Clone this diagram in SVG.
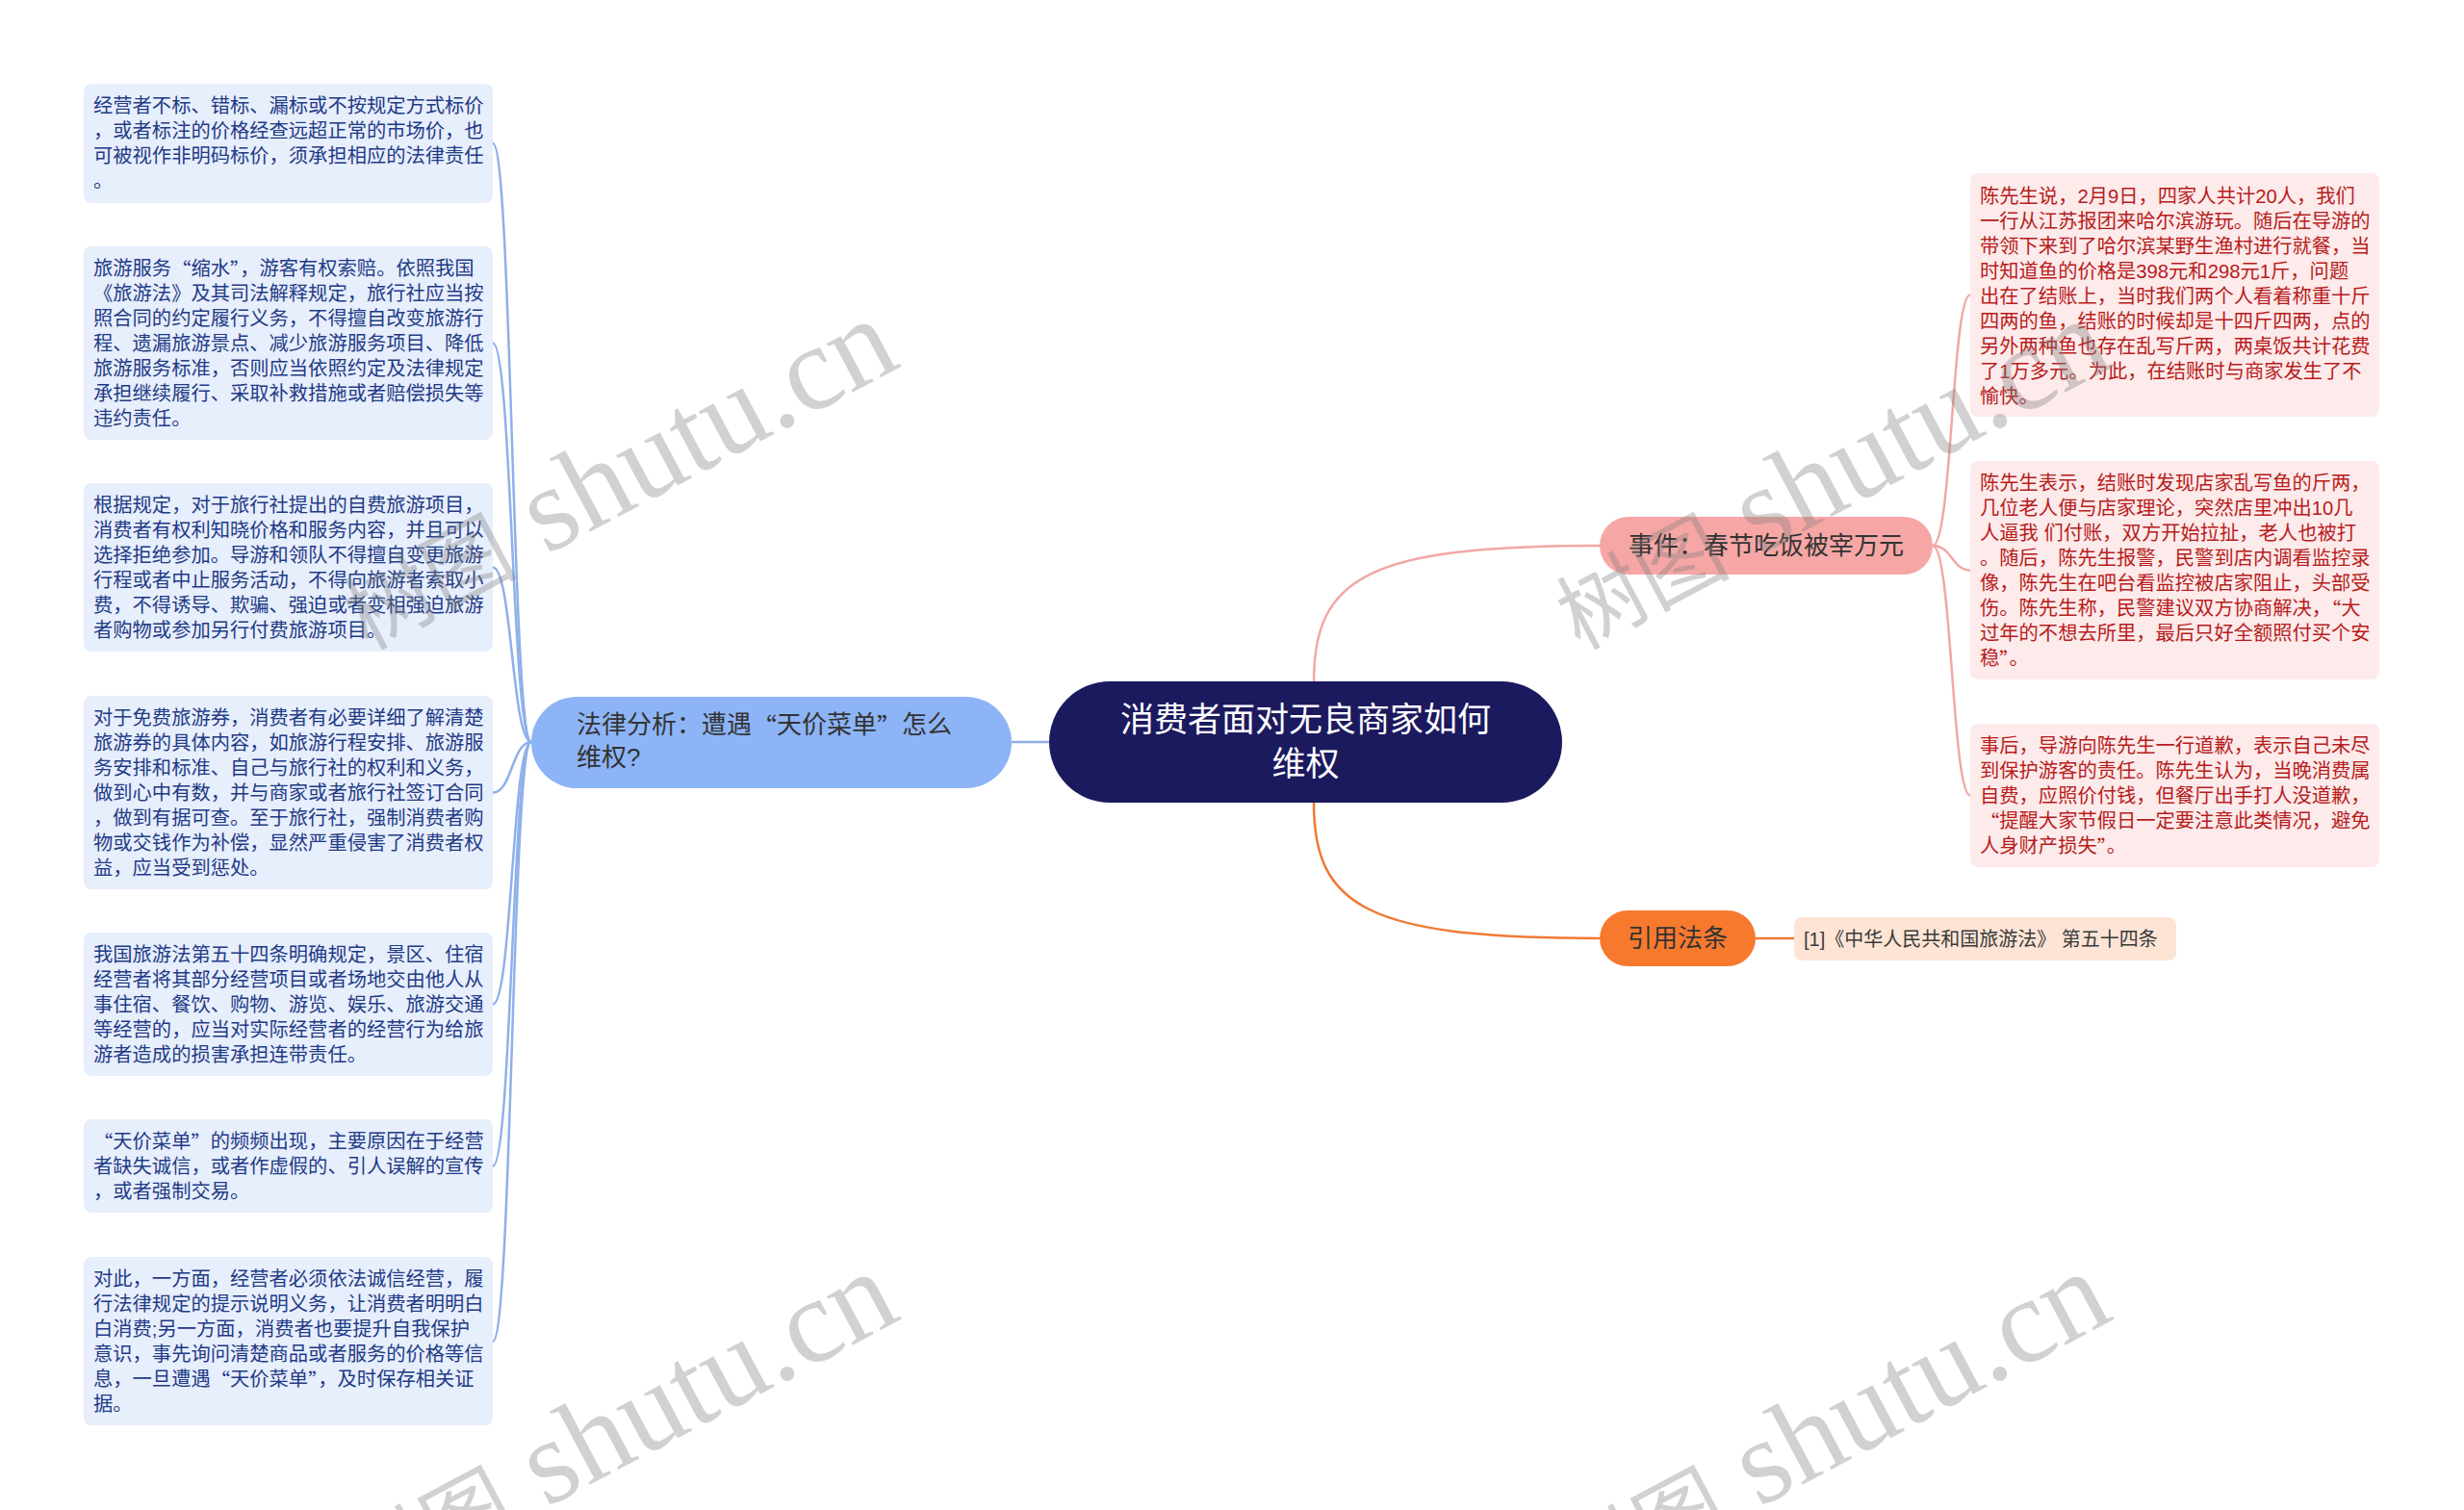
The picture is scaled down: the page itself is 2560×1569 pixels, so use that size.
<svg xmlns="http://www.w3.org/2000/svg" width="2560" height="1569" viewBox="0 0 2560 1569">
<style>
text{font-family:"Liberation Sans","Noto Sans CJK SC",sans-serif;}
.q{font-family:"Noto Sans CJK SC","Liberation Sans",sans-serif;}
.bl{fill:#e7eefc;}
.rl{fill:#fdeaea;}
.tb{font-size:20.3px;fill:#1f3b86;dominant-baseline:central;}
.tr{font-size:20.3px;fill:#b71c1c;dominant-baseline:central;}
.cb{fill:none;stroke:#8fb0ea;stroke-width:2.5;}
.cp{fill:none;stroke:#f2a7a5;stroke-width:2.5;}
.co{fill:none;stroke:#f07a35;stroke-width:2.5;}
.wm{font-family:"Liberation Serif","Noto Sans CJK SC",serif;font-size:125px;fill:#7f7f7f;fill-opacity:0.36;}
</style>
<rect width="2560" height="1569" fill="#ffffff"/>
<g id="connectors">
<path class="cb" d="M1090 771 L1051 771"/>
<path class="cp" d="M1365 709 C1365 600 1420 567 1662 567"/>
<path class="co" d="M1365 834 C1365 942 1420 975 1662 975"/>
<path class="co" d="M1824 975 L1864 975"/>
<path class="cb" d="M552 771 C532 771 532 149 512 149"/>
<path class="cb" d="M552 771 C532 771 532 356.5 512 356.5"/>
<path class="cb" d="M552 771 C532 771 532 589.5 512 589.5"/>
<path class="cb" d="M552 771 C532 771 532 823.5 512 823.5"/>
<path class="cb" d="M552 771 C532 771 532 1043.5 512 1043.5"/>
<path class="cb" d="M552 771 C532 771 532 1211.5 512 1211.5"/>
<path class="cb" d="M552 771 C532 771 532 1393.5 512 1393.5"/>
<path class="cp" d="M2008 567 C2028 567 2028 306.5 2047 306.5"/>
<path class="cp" d="M2008 567 C2028 567 2028 592.5 2047 592.5"/>
<path class="cp" d="M2008 567 C2028 567 2028 826.5 2047 826.5"/>
</g>
<g id="root">
<rect x="1090" y="708" width="533" height="126" rx="63" fill="#1c1a5e"/>
<text x="1356.5" y="747" font-size="35" fill="#ffffff" text-anchor="middle" dominant-baseline="central">消费者面对无良商家如何</text>
<text x="1356.5" y="793" font-size="35" fill="#ffffff" text-anchor="middle" dominant-baseline="central">维权</text>
</g>
<g id="branch-law">
<rect x="552" y="724" width="499" height="95" rx="47.5" fill="#8db4f6"/>
<text x="599" y="753" font-size="26" fill="#333333" dominant-baseline="central">法律分析：遭遇<tspan class="q">“</tspan>天价菜单<tspan class="q">”</tspan>怎么</text>
<text x="599" y="787" font-size="26" fill="#333333" dominant-baseline="central">维权?</text>
</g>
<g id="branch-event">
<rect x="1662" y="537" width="346" height="60" rx="30" fill="#f6a7a5"/>
<text x="1835" y="567" font-size="26" fill="#333333" text-anchor="middle" dominant-baseline="central">事件：春节吃饭被宰万元</text>
</g>
<g id="branch-cite">
<rect x="1662" y="946" width="162" height="58" rx="29" fill="#f7792e"/>
<text x="1743" y="975" font-size="26" fill="#333333" text-anchor="middle" dominant-baseline="central">引用法条</text>
</g>
<g id="leaf-cite">
<rect x="1864" y="953" width="397" height="45" rx="8" fill="#fde4d5"/>
<text x="1874" y="975.5" font-size="20" fill="#3a3a3a" dominant-baseline="central">[1]《中华人民共和国旅游法》 第五十四条</text>
</g>
<g id="leaf-l1">
<rect class="bl" x="87" y="87" width="425" height="124" rx="8"/>
<text class="tb" x="97" y="110">经营者不标、错标、漏标或不按规定方式标价</text>
<text class="tb" x="97" y="136">，或者标注的价格经查远超正常的市场价，也</text>
<text class="tb" x="97" y="162">可被视作非明码标价，须承担相应的法律责任</text>
<text class="tb" x="97" y="188">。</text>
</g>
<g id="leaf-l2">
<rect class="bl" x="87" y="256" width="425" height="201" rx="8"/>
<text class="tb" x="97" y="279">旅游服务<tspan class="q">“</tspan>缩水<tspan class="q">”</tspan>，游客有权索赔。依照我国</text>
<text class="tb" x="97" y="305">《旅游法》及其司法解释规定，旅行社应当按</text>
<text class="tb" x="97" y="331">照合同的约定履行义务，不得擅自改变旅游行</text>
<text class="tb" x="97" y="357">程、遗漏旅游景点、减少旅游服务项目、降低</text>
<text class="tb" x="97" y="383">旅游服务标准，否则应当依照约定及法律规定</text>
<text class="tb" x="97" y="409">承担继续履行、采取补救措施或者赔偿损失等</text>
<text class="tb" x="97" y="435">违约责任。</text>
</g>
<g id="leaf-l3">
<rect class="bl" x="87" y="502" width="425" height="175" rx="8"/>
<text class="tb" x="97" y="525">根据规定，对于旅行社提出的自费旅游项目，</text>
<text class="tb" x="97" y="551">消费者有权利知晓价格和服务内容，并且可以</text>
<text class="tb" x="97" y="577">选择拒绝参加。导游和领队不得擅自变更旅游</text>
<text class="tb" x="97" y="603">行程或者中止服务活动，不得向旅游者索取小</text>
<text class="tb" x="97" y="629">费，不得诱导、欺骗、强迫或者变相强迫旅游</text>
<text class="tb" x="97" y="655">者购物或参加另行付费旅游项目。</text>
</g>
<g id="leaf-l4">
<rect class="bl" x="87" y="723" width="425" height="201" rx="8"/>
<text class="tb" x="97" y="746">对于免费旅游券，消费者有必要详细了解清楚</text>
<text class="tb" x="97" y="772">旅游券的具体内容，如旅游行程安排、旅游服</text>
<text class="tb" x="97" y="798">务安排和标准、自己与旅行社的权利和义务，</text>
<text class="tb" x="97" y="824">做到心中有数，并与商家或者旅行社签订合同</text>
<text class="tb" x="97" y="850">，做到有据可查。至于旅行社，强制消费者购</text>
<text class="tb" x="97" y="876">物或交钱作为补偿，显然严重侵害了消费者权</text>
<text class="tb" x="97" y="902">益，应当受到惩处。</text>
</g>
<g id="leaf-l5">
<rect class="bl" x="87" y="969" width="425" height="149" rx="8"/>
<text class="tb" x="97" y="992">我国旅游法第五十四条明确规定，景区、住宿</text>
<text class="tb" x="97" y="1018">经营者将其部分经营项目或者场地交由他人从</text>
<text class="tb" x="97" y="1044">事住宿、餐饮、购物、游览、娱乐、旅游交通</text>
<text class="tb" x="97" y="1070">等经营的，应当对实际经营者的经营行为给旅</text>
<text class="tb" x="97" y="1096">游者造成的损害承担连带责任。</text>
</g>
<g id="leaf-l6">
<rect class="bl" x="87" y="1163" width="425" height="97" rx="8"/>
<text class="tb" x="97" y="1186"><tspan class="q">“</tspan>天价菜单<tspan class="q">”</tspan>的频频出现，主要原因在于经营</text>
<text class="tb" x="97" y="1212">者缺失诚信，或者作虚假的、引人误解的宣传</text>
<text class="tb" x="97" y="1238">，或者强制交易。</text>
</g>
<g id="leaf-l7">
<rect class="bl" x="87" y="1306" width="425" height="175" rx="8"/>
<text class="tb" x="97" y="1329">对此，一方面，经营者必须依法诚信经营，履</text>
<text class="tb" x="97" y="1355">行法律规定的提示说明义务，让消费者明明白</text>
<text class="tb" x="97" y="1381">白消费;另一方面，消费者也要提升自我保护</text>
<text class="tb" x="97" y="1407">意识，事先询问清楚商品或者服务的价格等信</text>
<text class="tb" x="97" y="1433">息，一旦遭遇<tspan class="q">“</tspan>天价菜单<tspan class="q">”</tspan>，及时保存相关证</text>
<text class="tb" x="97" y="1459">据。</text>
</g>
<g id="leaf-r1">
<rect class="rl" x="2047" y="180" width="425" height="253" rx="8"/>
<text class="tr" x="2057" y="204">陈先生说，2月9日，四家人共计20人，我们</text>
<text class="tr" x="2057" y="230">一行从江苏报团来哈尔滨游玩。随后在导游的</text>
<text class="tr" x="2057" y="256">带领下来到了哈尔滨某野生渔村进行就餐，当</text>
<text class="tr" x="2057" y="282">时知道鱼的价格是398元和298元1斤，问题</text>
<text class="tr" x="2057" y="308">出在了结账上，当时我们两个人看着称重十斤</text>
<text class="tr" x="2057" y="334">四两的鱼，结账的时候却是十四斤四两，点的</text>
<text class="tr" x="2057" y="360">另外两种鱼也存在乱写斤两，两桌饭共计花费</text>
<text class="tr" x="2057" y="386">了1万多元。为此，在结账时与商家发生了不</text>
<text class="tr" x="2057" y="412">愉快。</text>
</g>
<g id="leaf-r2">
<rect class="rl" x="2047" y="479" width="425" height="227" rx="8"/>
<text class="tr" x="2057" y="502">陈先生表示，结账时发现店家乱写鱼的斤两，</text>
<text class="tr" x="2057" y="528">几位老人便与店家理论，突然店里冲出10几</text>
<text class="tr" x="2057" y="554">人逼我 们付账，双方开始拉扯，老人也被打</text>
<text class="tr" x="2057" y="580">。随后，陈先生报警，民警到店内调看监控录</text>
<text class="tr" x="2057" y="606">像，陈先生在吧台看监控被店家阻止，头部受</text>
<text class="tr" x="2057" y="632">伤。陈先生称，民警建议双方协商解决，<tspan class="q">“</tspan>大</text>
<text class="tr" x="2057" y="658">过年的不想去所里，最后只好全额照付买个安</text>
<text class="tr" x="2057" y="684">稳<tspan class="q">”</tspan>。</text>
</g>
<g id="leaf-r3">
<rect class="rl" x="2047" y="752" width="425" height="149" rx="8"/>
<text class="tr" x="2057" y="775">事后，导游向陈先生一行道歉，表示自己未尽</text>
<text class="tr" x="2057" y="801">到保护游客的责任。陈先生认为，当晚消费属</text>
<text class="tr" x="2057" y="827">自费，应照价付钱，但餐厅出手打人没道歉，</text>
<text class="tr" x="2057" y="853"><tspan class="q">“</tspan>提醒大家节假日一定要注意此类情况，避免</text>
<text class="tr" x="2057" y="879">人身财产损失<tspan class="q">”</tspan>。</text>
</g>
<g id="watermarks">
<text class="wm" transform="translate(381,676) rotate(-28)"><tspan font-size="90">树图</tspan> shutu.cn</text>
<text class="wm" transform="translate(1641,676) rotate(-28)"><tspan font-size="90">树图</tspan> shutu.cn</text>
<text class="wm" transform="translate(381,1666) rotate(-28)"><tspan font-size="90">树图</tspan> shutu.cn</text>
<text class="wm" transform="translate(1641,1666) rotate(-28)"><tspan font-size="90">树图</tspan> shutu.cn</text>
</g>
</svg>
